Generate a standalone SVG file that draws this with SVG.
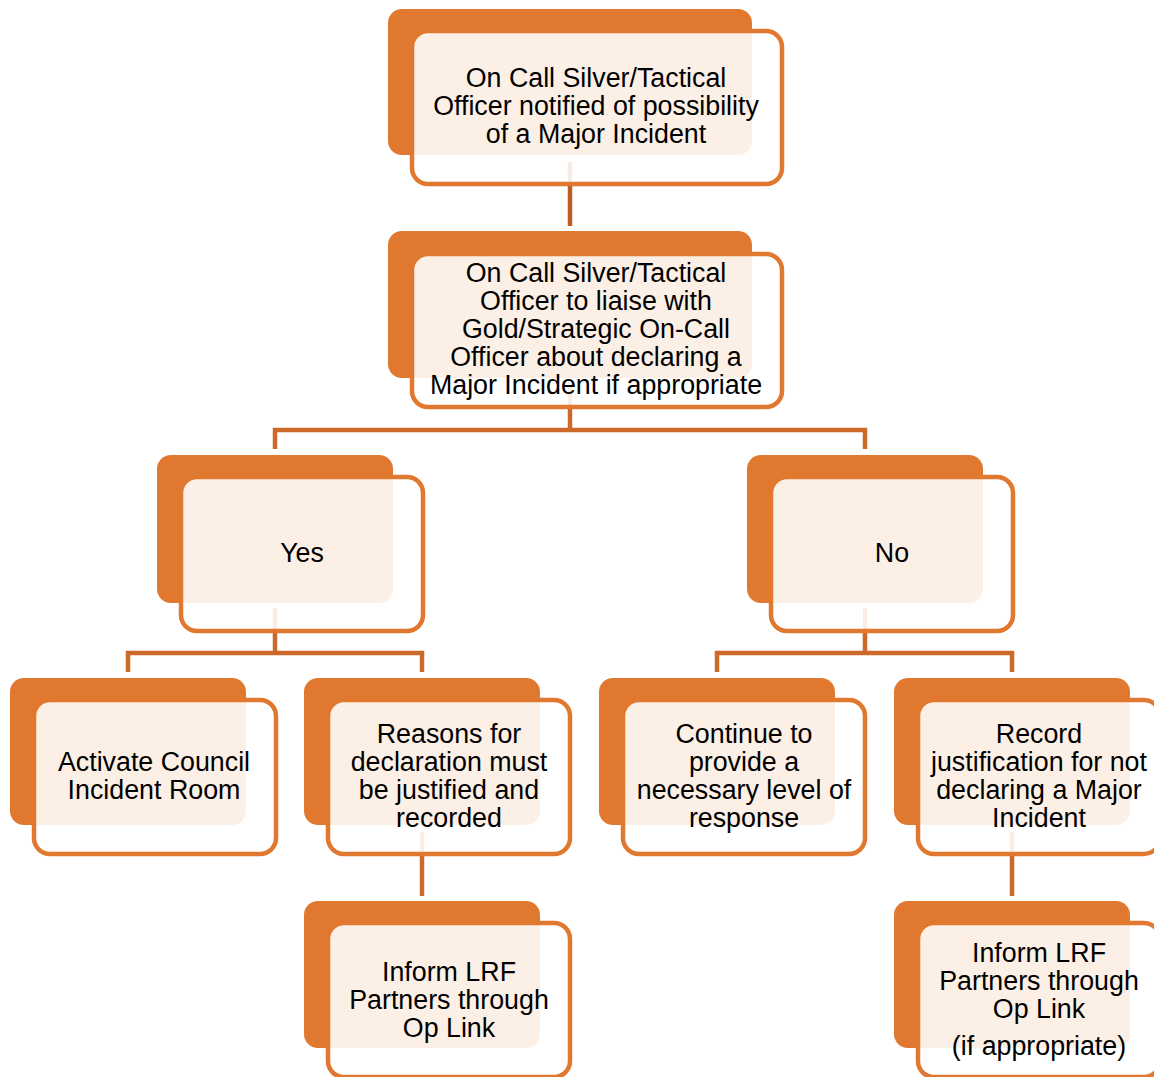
<svg xmlns="http://www.w3.org/2000/svg" width="1154" height="1077" viewBox="0 0 1154 1077">
  <style>
    .back { fill: #E0792F; }
    .front { fill: #FFFFFF; fill-opacity: 0.88; stroke: #E0792F; stroke-width: 4.5; }
    .link { fill: none; stroke: #CD6928; stroke-width: 4.5; stroke-linejoin: miter; stroke-linecap: butt; }
    .link-top { stroke: #B95F23; }
    text { font-family: "Liberation Sans", Arial, sans-serif; font-size: 26.8px; fill: #000000; text-anchor: middle; }
  </style>

  <!-- connectors, drawn beneath the node cards -->
  <g id="connectors">
    <path class="link link-top" d="M570 162 V226"/>
    <path class="link" d="M570 385 V430 M275 449 V430 H865 V449"/>
    <path class="link" d="M275 608 V653 M128 672 V653 H422 V672"/>
    <path class="link" d="M865 608 V653 M717 672 V653 H1012 V672"/>
    <path class="link" d="M422 832 V896"/>
    <path class="link" d="M1012 832 V896"/>
  </g>

  <g id="notified">
    <rect class="back" x="388" y="9" width="364" height="146" rx="14"/>
    <rect class="front" x="412" y="31" width="370" height="153" rx="16"/>
    <text x="596" y="87">On Call Silver/Tactical</text>
    <text x="596" y="115">Officer notified of possibility</text>
    <text x="596" y="143">of a Major Incident</text>
  </g>

  <g id="liaise">
    <rect class="back" x="388" y="231" width="364" height="147" rx="14"/>
    <rect class="front" x="412" y="254" width="370" height="153" rx="16"/>
    <text x="596" y="282">On Call Silver/Tactical</text>
    <text x="596" y="310">Officer to liaise with</text>
    <text x="596" y="338">Gold/Strategic On-Call</text>
    <text x="596" y="366">Officer about declaring a</text>
    <text x="596" y="394">Major Incident if appropriate</text>
  </g>

  <g id="yes">
    <rect class="back" x="157" y="455" width="236" height="148" rx="14"/>
    <rect class="front" x="181" y="477" width="242" height="154" rx="16"/>
    <text x="302" y="562">Yes</text>
  </g>

  <g id="no">
    <rect class="back" x="747" y="455" width="236" height="148" rx="14"/>
    <rect class="front" x="771" y="477" width="242" height="154" rx="16"/>
    <text x="892" y="562">No</text>
  </g>

  <g id="activate-room">
    <rect class="back" x="10" y="678" width="236" height="147" rx="14"/>
    <rect class="front" x="34" y="700" width="242" height="154" rx="16"/>
    <text x="154" y="771">Activate Council</text>
    <text x="154" y="799">Incident Room</text>
  </g>

  <g id="reasons">
    <rect class="back" x="304" y="678" width="236" height="147" rx="14"/>
    <rect class="front" x="328" y="700" width="242" height="154" rx="16"/>
    <text x="449" y="743">Reasons for</text>
    <text x="449" y="771">declaration must</text>
    <text x="449" y="799">be justified and</text>
    <text x="449" y="827">recorded</text>
  </g>

  <g id="continue">
    <rect class="back" x="599" y="678" width="236" height="147" rx="14"/>
    <rect class="front" x="623" y="700" width="242" height="154" rx="16"/>
    <text x="744" y="743">Continue to</text>
    <text x="744" y="771">provide a</text>
    <text x="744" y="799">necessary level of</text>
    <text x="744" y="827">response</text>
  </g>

  <g id="record">
    <rect class="back" x="894" y="678" width="236" height="147" rx="14"/>
    <rect class="front" x="918" y="700" width="242" height="154" rx="16"/>
    <text x="1039" y="743">Record</text>
    <text x="1039" y="771">justification for not</text>
    <text x="1039" y="799">declaring a Major</text>
    <text x="1039" y="827">Incident</text>
  </g>

  <g id="inform-yes">
    <rect class="back" x="304" y="901" width="236" height="147" rx="14"/>
    <rect class="front" x="328" y="923" width="242" height="154" rx="16"/>
    <text x="449" y="981">Inform LRF</text>
    <text x="449" y="1009">Partners through</text>
    <text x="449" y="1037">Op Link</text>
  </g>

  <g id="inform-no">
    <rect class="back" x="894" y="901" width="236" height="147" rx="14"/>
    <rect class="front" x="918" y="923" width="242" height="154" rx="16"/>
    <text x="1039" y="962">Inform LRF</text>
    <text x="1039" y="990">Partners through</text>
    <text x="1039" y="1018">Op Link</text>
    <text x="1039" y="1055">(if appropriate)</text>
  </g>
</svg>
